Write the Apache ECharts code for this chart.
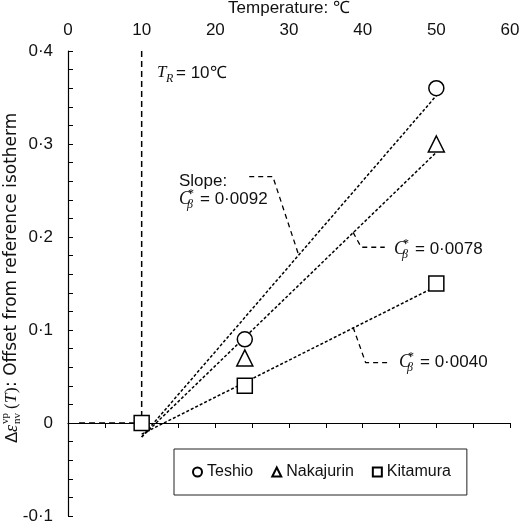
<!DOCTYPE html>
<html>
<head>
<meta charset="utf-8">
<script src="https://cdn.jsdelivr.net/npm/echarts@6/dist/echarts.min.js"></script>
<style>
  html, body { margin: 0; padding: 0; background: #fff; }
  #chart { width: 520px; height: 522px; }
</style>
</head>
<body>
<div id="chart"></div>
<script>
// measured points
const temp = [24, 50]
const teshio = [0.09, 0.36]
const nakajurin = [0.07, 0.30]
const kitamuraTemp = [10, 24, 50]
const kitamura = [0, 0.04, 0.15]

// fitted lines (end points)
const fitTemp = [10, 50]
const teshioFit = [-0.015, 0.352]
const nakajurinFit = [-0.015, 0.291]
const kitamuraFit = [-0.012, 0.147]

// reference temperature guides
const refTemp = 10
const refTop = 0.4
const refStart = 1.5

// leader lines for the slope labels
const slopeLeader = [[24.6, 0.265], [27.8, 0.265], [31.3, 0.181]]
const leader78 = [[38.7, 0.205], [39.8, 0.189], [43.0, 0.189]]
const leader40 = [[38.7, 0.103], [40.4, 0.065], [43.7, 0.065]]

const xTicks = { min: 0, max: 60, interval: 10 }
const yTicks = { min: -0.1, max: 0.4, interval: 0.1 }

const SANS = '"Liberation Sans", Arial, sans-serif'
const WIDE = '"DejaVu Sans", sans-serif'
const SERIF = '"Liberation Serif", "DejaVu Serif", serif'
const FS = 17

const zip = (xs, ys) => xs.map((x, i) => [x, ys[i]])

function txt(x, y, text, font, extra) {
  return Object.assign({
    type: 'text', x: x, y: y,
    style: { text: text, font: font, fill: '#111', verticalAlign: 'middle', align: 'left' }
  }, extra || {})
}

// "C*β = value" label
function cbeta(x, y, value) {
  return [
    txt(x, y, 'C', 'italic 18px ' + SERIF),
    txt(x + 9, y - 5, '*', '12px ' + SERIF),
    txt(x + 8, y + 6, 'β', 'italic 12px ' + SERIF),
    txt(x + 21, y, '= ' + value, FS + 'px ' + SANS)
  ]
}

const chart = echarts.init(document.getElementById('chart'))

const dashedLine = (data, dash, width) => ({
  type: 'line', data: data, symbol: 'none', silent: true, z: 1,
  lineStyle: { color: '#000', width: width, type: dash },
  animation: false
})

const marker = (name, symbol, data, size) => ({
  name: name, type: 'scatter', symbol: symbol, symbolSize: size, data: data, z: 5,
  itemStyle: { color: '#fff', borderColor: '#000', borderWidth: 1.5, opacity: 1 },
  animation: false
})

const yLabelParts = [
  txt(0, 0, 'Δ', FS + 'px ' + SANS),
  txt(11, 0, 'ε', 'italic 18px ' + SERIF),
  txt(19, -7, 'vp', '11px ' + SERIF),
  txt(19, 5, 'nv', '11px ' + SERIF),
  txt(34, 0, '(', FS + 'px ' + SERIF),
  txt(40, 0, 'T', 'italic ' + FS + 'px ' + SERIF),
  txt(50, 0, ')', FS + 'px ' + SERIF),
  txt(56, 0, ': Offset from reference isotherm', FS + 'px ' + WIDE)
]

chart.setOption({
  backgroundColor: '#fff',
  animation: false,
  grid: { left: 68, right: 10, top: 51, bottom: 6, outerBoundsMode: 'none', containLabel: false },
  legend: {
    data: ['Teshio', 'Nakajurin', 'Kitamura'],
    left: 174, top: 449,
    padding: [15, 16, 15, 18],
    itemGap: 18,
    itemWidth: 9, itemHeight: 9,
    borderColor: '#222', borderWidth: 1,
    textStyle: { fontSize: 16, color: '#111', fontFamily: SANS }
  },
  xAxis: {
    type: 'value', position: 'top',
    min: xTicks.min, max: xTicks.max, interval: xTicks.interval,
    name: 'Temperature: ℃', nameLocation: 'middle', nameGap: 34,
    nameTextStyle: { fontSize: FS, color: '#111', fontFamily: SANS },
    axisLine: { show: true, lineStyle: { color: '#000', width: 1.2 } },
    axisTick: { show: true, inside: true, length: 5, lineStyle: { color: '#000' } },
    minorTick: { show: true, splitNumber: 2, length: 5, lineStyle: { color: '#000' } },
    axisLabel: { fontSize: FS, color: '#111', fontFamily: SANS, margin: 12 },
    splitLine: { show: false }
  },
  yAxis: {
    type: 'value',
    min: yTicks.min, max: yTicks.max, interval: yTicks.interval,
    axisLine: { show: true, lineStyle: { color: '#000', width: 1.2 } },
    axisTick: { show: true, inside: true, length: 5, lineStyle: { color: '#000' } },
    minorTick: { show: true, splitNumber: 5, length: 5, lineStyle: { color: '#000' } },
    axisLabel: {
      fontSize: FS, color: '#111', fontFamily: SANS, margin: 15,
      formatter: v => Math.abs(v) < 1e-9 ? '0' : v.toFixed(1).replace('.', '·')
    },
    splitLine: { show: false }
  },
  graphic: [
    { type: 'group', x: 12, y: 443, rotation: Math.PI / 2, children: yLabelParts },
    txt(157, 73, 'T', 'italic ' + FS + 'px ' + SERIF),
    txt(166, 79, 'R', 'italic 12px ' + SERIF),
    txt(176, 73, '= 10℃', FS + 'px ' + SANS),
    txt(179, 181, 'Slope:', FS + 'px ' + SANS)
  ].concat(cbeta(179, 199, '0·0092'), cbeta(394, 249, '0·0078'), cbeta(399, 362, '0·0040')),
  series: [
    dashedLine([[refTemp, refTop], [refTemp, 0]], [6, 4], 1.5),
    dashedLine([[refStart, 0], [refTemp, 0]], [6, 4], 1.5),
    dashedLine(zip(fitTemp, teshioFit), [3, 2], 1.5),
    dashedLine(zip(fitTemp, nakajurinFit), [3, 2], 1.5),
    dashedLine(zip(fitTemp, kitamuraFit), [3, 2], 1.5),
    dashedLine(slopeLeader, [5, 4], 1.3),
    dashedLine(leader78, [5, 4], 1.3),
    dashedLine(leader40, [5, 4], 1.3),
    marker('Teshio', 'circle', zip(temp, teshio), 15),
    marker('Nakajurin', 'triangle', zip(temp, nakajurin), 16),
    marker('Kitamura', 'rect', zip(kitamuraTemp, kitamura), 15)
  ]
})
</script>
</body>
</html>
